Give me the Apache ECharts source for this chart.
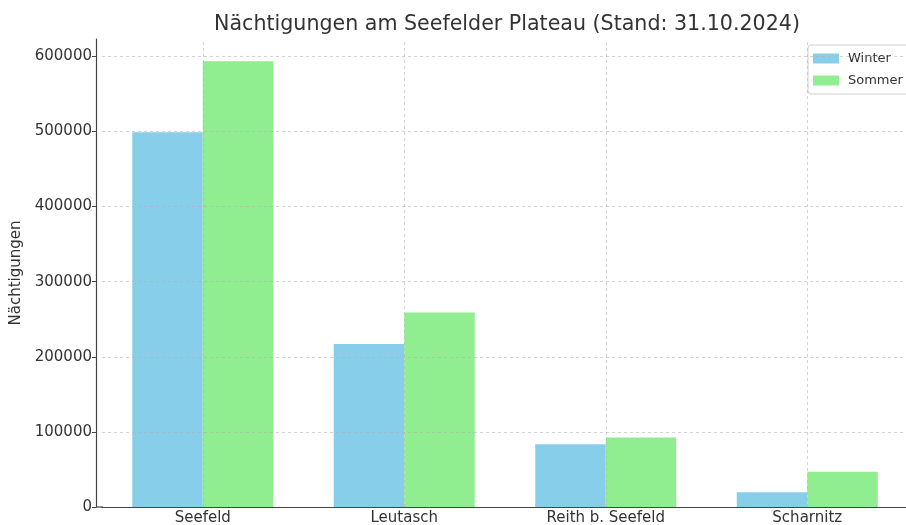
<!DOCTYPE html>
<html>
<head>
<meta charset="utf-8">
<script src="https://cdn.jsdelivr.net/npm/echarts@6/dist/echarts.min.js"></script>
<style>
  html, body { margin: 0; padding: 0; background: #fff; }
  #chart { width: 906px; height: 525px; }
</style>
</head>
<body>
<div id="chart"></div>
<script>
// Daten
var orte = ['Seefeld', 'Leutasch', 'Reith b. Seefeld', 'Scharnitz'];
var winter = [499000, 217000, 83500, 19600];
var sommer = [593300, 259000, 92400, 47000];
var yTicks = [100000, 200000, 300000, 400000, 500000, 600000];

(function() {
	var myChart = echarts.init(document.querySelector('#chart'));
	var font = 'DejaVu Sans';
	var gridStyle = { color: '#b0b0b0', type: [3, 3], width: 0.8, opacity: 0.7 };

	// Gitterlinien über den Balken (wie matplotlib)
	var gitter = [];
	yTicks.forEach(function(v) { gitter.push({ yAxis: v }); });
	orte.forEach(function(o) { gitter.push({ xAxis: o }); });

	option = {
		animation: false,
		textStyle: { fontFamily: font },
		title: {
			text: 'Nächtigungen am Seefelder Plateau (Stand: 31.10.2024)',
			left: 502,
			textAlign: 'center',
			top: 9,
			textStyle: { fontFamily: font, fontSize: 20.6, fontWeight: 'normal', color: '#333' }
		},
		legend: {
			orient: 'vertical',
			left: 808,
			top: 45,
			itemWidth: 26,
			itemHeight: 10,
			itemGap: 9,
			padding: [7, 30, 7, 5],
			borderColor: '#d0d0d0',
			borderWidth: 1,
			borderRadius: 3,
			backgroundColor: '#fff',
			icon: 'rect',
			textStyle: { fontFamily: font, fontSize: 13, color: '#333', padding: [0, 0, 0, 4] },
			data: ['Winter', 'Sommer']
		},
		grid: { left: 102, right: -2, top: 39, bottom: 18, containLabel: false, outerBoundsMode: 'none' },
		xAxis: {
			type: 'category',
			data: orte,
			axisLine: { lineStyle: { color: '#444', width: 1.2 } },
			axisTick: { alignWithLabel: true, length: 4, lineStyle: { color: '#444' } },
			axisLabel: { fontFamily: font, fontSize: 15, color: '#333', margin: 4 },
			splitLine: { show: false }
		},
		yAxis: {
			type: 'value',
			min: 0,
			max: 623000,
			interval: 100000,
			offset: 6,
			name: 'Nächtigungen',
			nameLocation: 'middle',
			nameGap: 53,
			nameTextStyle: { fontFamily: font, fontSize: 15, color: '#333' },
			axisLine: { show: true, lineStyle: { color: '#444', width: 1.2 } },
			axisTick: { show: true, length: 4, lineStyle: { color: '#444' } },
			axisLabel: {
				fontFamily: font, fontSize: 15, color: '#333', margin: 4, showMaxLabel: false,
				formatter: function(v) { return String(v); }
			},
			splitLine: { show: false }
		},
		series: [
			{
				name: 'Winter',
				type: 'bar',
				barWidth: 70.5,
				barGap: '0%',
				itemStyle: { color: '#87CEEB' },
				data: winter
			},
			{
				name: 'Sommer',
				type: 'bar',
				barWidth: 70.5,
				itemStyle: { color: '#90EE90' },
				data: sommer
			},
			{
				name: 'gitter',
				type: 'line',
				data: [],
				z: 5,
				markLine: {
					silent: true,
					symbol: 'none',
					label: { show: false },
					lineStyle: gridStyle,
					emphasis: { disabled: true },
					data: gitter
				}
			}
		],
		graphic: [
			{
				type: 'line',
				shape: { x1: 96, y1: 507, x2: 103, y2: 507 },
				style: { stroke: '#444', lineWidth: 1.2 }
			}
		]
	};
	myChart.setOption(option);
})();
</script>
</body>
</html>
